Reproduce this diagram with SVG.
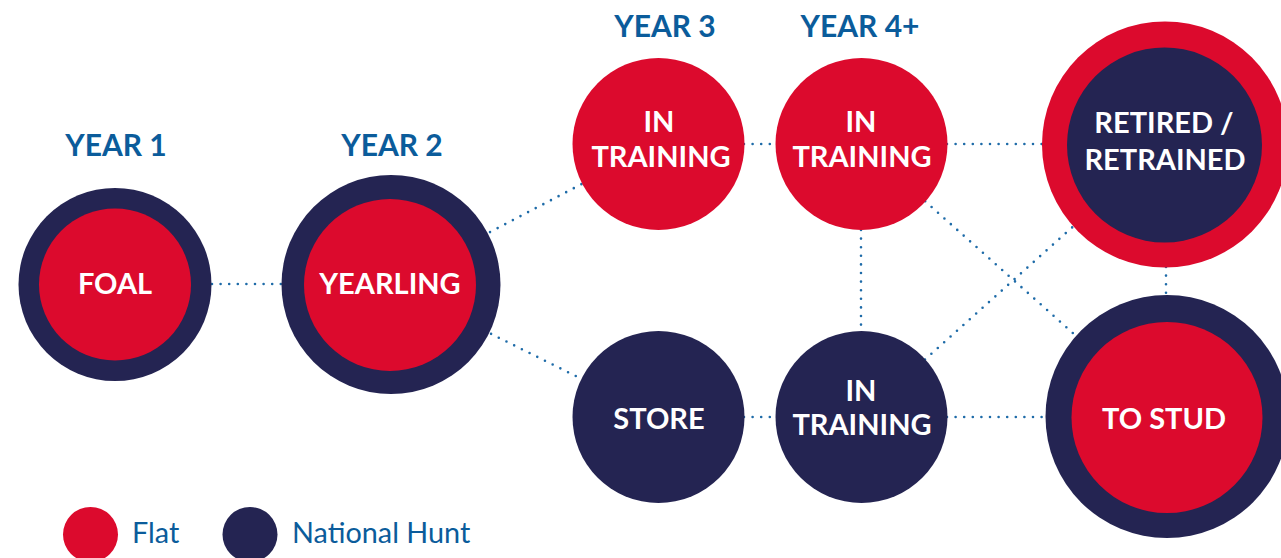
<svg xmlns="http://www.w3.org/2000/svg" width="1281" height="558" viewBox="0 0 1281 558">
<style>
.red{fill:#DC0A2D}
.navy{fill:#242452}
.lbl{font-family:Lato,"Liberation Sans",sans-serif;font-weight:bold;fill:#FFFFFF;text-anchor:middle;font-size:29px}
.yr{font-family:Lato,"Liberation Sans",sans-serif;font-weight:bold;fill:#0B5C9B;text-anchor:middle;font-size:30px}
.leg{font-family:Lato,"Liberation Sans",sans-serif;fill:#0B5C9B;font-size:28.8px}
.con line{stroke:#1E6BA8;stroke-width:2.6;stroke-linecap:round;stroke-dasharray:0 8.6;fill:none}
</style>
<rect width="1281" height="558" fill="#FFFFFF"/>
<g id="connectors" class="con">
<line x1="212" y1="284" x2="282" y2="284"/>
<line x1="391" y1="284" x2="658" y2="144"/>
<line x1="391" y1="284" x2="658" y2="417"/>
<line x1="744" y1="144" x2="776" y2="144"/>
<line x1="947" y1="144" x2="1042" y2="144"/>
<line x1="861" y1="230" x2="861" y2="331"/>
<line x1="861" y1="144" x2="1167" y2="417"/>
<line x1="861" y1="417" x2="1165" y2="144"/>
<line x1="744" y1="417" x2="776" y2="417"/>
<line x1="947" y1="417" x2="1046" y2="417"/>
<line x1="1166" y1="267" x2="1166" y2="295"/>
</g>
<g id="year-labels">
<text class="yr" x="116" y="156">YEAR 1</text>
<text class="yr" x="392" y="156">YEAR 2</text>
<text class="yr" x="665" y="37">YEAR 3</text>
<text class="yr" x="860" y="37">YEAR 4+</text>
</g>
<g id="foal">
<circle class="navy" cx="115" cy="284.5" r="96.5"/>
<circle class="red" cx="115" cy="284.5" r="76"/>
<text class="lbl" x="115" y="294">FOAL</text>
</g>
<g id="yearling">
<circle class="navy" cx="391" cy="284.5" r="109.5"/>
<circle class="red" cx="390" cy="285" r="86"/>
<text class="lbl" x="390" y="294">YEARLING</text>
</g>
<g id="training-y3">
<circle class="red" cx="658.5" cy="144" r="86"/>
<text class="lbl" x="659" y="132">IN</text>
<text class="lbl" x="661" y="167">TRAINING</text>
</g>
<g id="training-y4-flat">
<circle class="red" cx="861.5" cy="144" r="86"/>
<text class="lbl" x="861" y="132">IN</text>
<text class="lbl" x="862" y="167">TRAINING</text>
</g>
<g id="retired">
<circle class="red" cx="1165" cy="144.5" r="123"/>
<circle class="navy" cx="1164.5" cy="145" r="97.5"/>
<text class="lbl" x="1164" y="133">RETIRED /</text>
<text class="lbl" x="1165" y="170">RETRAINED</text>
</g>
<g id="store">
<circle class="navy" cx="658.5" cy="417" r="86"/>
<text class="lbl" x="659" y="429">STORE</text>
</g>
<g id="training-y4-nh">
<circle class="navy" cx="861.5" cy="417" r="86"/>
<text class="lbl" x="861" y="401">IN</text>
<text class="lbl" x="862" y="435">TRAINING</text>
</g>
<g id="to-stud">
<circle class="navy" cx="1167" cy="416.5" r="121.5"/>
<circle class="red" cx="1167" cy="417.5" r="95.5"/>
<text class="lbl" x="1164" y="429">TO STUD</text>
</g>
<g id="legend">
<circle class="red" cx="90.5" cy="534.5" r="27.5"/>
<text class="leg" x="132" y="543">Flat</text>
<circle class="navy" cx="250" cy="534.5" r="27.5"/>
<text class="leg" x="292" y="543">National Hunt</text>
</g>
</svg>
